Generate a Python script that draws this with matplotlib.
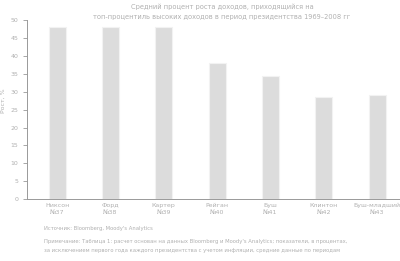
import matplotlib
matplotlib.use('agg')
import matplotlib.pyplot as plt
import numpy as np

# data
presidents = ['Никсон\n№37', 'Форд\n№38', 'Картер\n№39', 'Рейган\n№40',
              'Буш\n№41', 'Клинтон\n№42', 'Буш-младший\n№43']
values = [48.0, 48.0, 48.0, 38.0, 34.5, 28.6, 29.1]
yticks = np.arange(0, 51, 5)

txt = '#b0b0b0'
plt.rcParams['font.family'] = ['DejaVu Sans']

fig = plt.figure(figsize=(4, 2.61), dpi=100)
ax = fig.add_axes([0.068, 0.237, 0.932, 0.686])

x = np.arange(len(presidents))
ax.bar(x, values, width=0.32, color='#dcdcdc', edgecolor='#f2f2f2', linewidth=0.8)

ax.set_xlim(-0.56, 6.43)
ax.set_ylim(0, 50)
ax.set_yticks(yticks)
ax.set_xticks(x)
ax.set_xticklabels(presidents, fontsize=4.5, color=txt, linespacing=1.3)
ax.tick_params(axis='y', labelsize=4.5, labelcolor=txt, color='#999999', length=3, width=0.6)
ax.tick_params(axis='x', length=0, pad=3)
for s in ['top', 'right']:
    ax.spines[s].set_visible(False)
ax.spines['left'].set_color('#999999')
ax.spines['bottom'].set_color('#999999')
ax.spines['left'].set_linewidth(0.7)
ax.spines['bottom'].set_linewidth(0.7)
ax.set_ylabel('Рост, %', fontsize=4.5, color=txt)
ax.yaxis.set_label_coords(-0.058, 0.55)

fig.text(0.555, 0.985, 'Средний процент роста доходов, приходящийся на',
         ha='center', va='top', fontsize=4.8, color=txt)
fig.text(0.555, 0.948, 'топ-процентиль высоких доходов в период президентства 1969–2008 гг',
         ha='center', va='top', fontsize=4.8, color=txt)

fig.text(0.11, 0.125, 'Источник: Bloomberg, Moody\'s Analytics',
         fontsize=3.8, color=txt, va='center')
fig.text(0.11, 0.075, 'Примечание: Таблица 1: расчет основан на данных Bloomberg и Moody\'s Analytics; показатели, в процентах,',
         fontsize=3.8, color=txt, va='center')
fig.text(0.11, 0.04, 'за исключением первого года каждого президентства с учетом инфляции, средние данные по периодам',
         fontsize=3.8, color=txt, va='center')

fig.savefig('out.png', dpi=100)
